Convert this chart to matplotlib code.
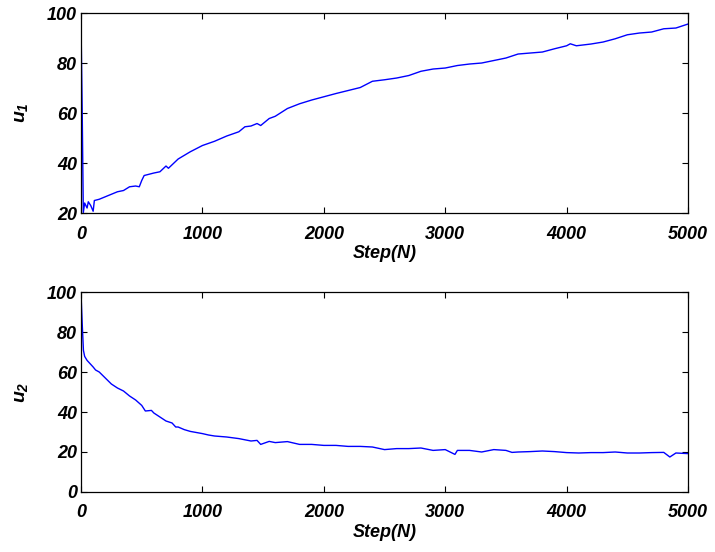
import matplotlib
matplotlib.use('Agg')
import matplotlib.pyplot as plt

# values
steps_u1 = [0, 10, 19, 30, 50, 60, 80, 100, 110, 150, 200, 250, 300, 350, 400,
            450, 480, 500, 520, 600, 650, 700, 720, 800, 900, 1000, 1100, 1200,
            1300, 1350, 1400, 1450, 1480, 1550, 1600, 1700, 1800, 1900, 2000,
            2100, 2200, 2300, 2400, 2500, 2600, 2700, 2800, 2900, 3000, 3100,
            3200, 3300, 3400, 3500, 3600, 3700, 3800, 3900, 4000, 4030, 4080,
            4200, 4300, 4400, 4500, 4600, 4700, 4800, 4900, 5000]
u1 = [96, 60, 20.2, 24, 22, 24.5, 23, 20.7, 25, 25.5, 26.5, 27.5, 28.5, 29, 30.5,
      30.8, 30.5, 33, 35, 36, 36.5, 38.8, 37.9, 41.6, 44.5, 47, 48.7, 50.8,
      52.5, 54.5, 54.8, 55.8, 55, 57.8, 58.7, 61.8, 63.7, 65.2, 66.5,
      67.8, 69, 70.2, 72.7, 73.3, 74, 75, 76.7, 77.6, 78, 79,
      79.6, 80, 81, 82, 83.6, 84, 84.4, 85.7, 86.9, 87.7, 86.9,
      87.6, 88.4, 89.7, 91.3, 92, 92.4, 93.7, 94, 95.6]

steps_u2 = [0, 10, 20, 30, 50, 100, 120, 150, 200, 250, 300, 350, 400, 450, 500,
            530, 580, 600, 650, 700, 750, 780, 800, 850, 900, 1000, 1050, 1100,
            1200, 1300, 1400, 1450, 1480, 1550, 1600, 1700, 1800, 1900, 2000,
            2100, 2200, 2300, 2400, 2500, 2600, 2700, 2800, 2900, 3000, 3080,
            3100, 3200, 3300, 3400, 3500, 3550, 3600, 3700, 3800, 3900, 4000,
            4100, 4200, 4300, 4400, 4500, 4600, 4700, 4800, 4850, 4900, 5000]
u2 = [99, 84, 70.8, 67.8, 65.8, 62.5, 61, 60, 57, 54, 52, 50.5, 48, 46, 43.3,
      40.5, 40.8, 39.5, 37.5, 35.5, 34.5, 32.5, 32.5, 31.2, 30.3, 29.2, 28.5, 28,
      27.5, 26.7, 25.5, 25.8, 23.8, 25.3, 24.7, 25.2, 23.8, 23.8, 23.3,
      23.3, 22.8, 22.8, 22.5, 21.2, 21.7, 21.7, 22, 20.8, 21.2, 18.8,
      20.8, 20.8, 20, 21.2, 20.8, 19.8, 20, 20.2, 20.5, 20.2, 19.7,
      19.5, 19.7, 19.7, 20, 19.5, 19.5, 19.7, 19.8, 17.5, 19.5, 19.2]

x_ticks = [0, 1000, 2000, 3000, 4000, 5000]


def main():
    plt.rcParams['font.family'] = 'Liberation Sans'
    plt.rcParams['font.weight'] = 'bold'
    plt.rcParams['font.style'] = 'italic'
    plt.rcParams['mathtext.fontset'] = 'custom'
    plt.rcParams['mathtext.it'] = 'Liberation Sans:bold:italic'
    plt.rcParams['mathtext.rm'] = 'Liberation Sans:bold:italic'

    fig = plt.figure(figsize=(7.15, 5.52), dpi=100)
    ax1 = fig.add_axes([0.1133, 0.6141, 0.849, 0.3623])
    ax2 = fig.add_axes([0.1133, 0.1087, 0.849, 0.3623])

    ax1.plot(steps_u1, u1, color='#0000ff', linewidth=1.0)
    ax2.plot(steps_u2, u2, color='#0000ff', linewidth=1.0)

    ax1.set_ylim(20, 100)
    ax1.set_yticks([20, 40, 60, 80, 100])
    ax2.set_ylim(0, 100)
    ax2.set_yticks([0, 20, 40, 60, 80, 100])

    for ax, lab in [(ax1, '$u_1$'), (ax2, '$u_2$')]:
        ax.set_xlim(0, 5000)
        ax.set_xticks(x_ticks)
        ax.tick_params(direction='in', top=True, right=True, length=4,
                       width=0.8, labelsize=13)
        ax.tick_params(axis='x', pad=9)
        ax.tick_params(axis='y', pad=3)
        for sp in ax.spines.values():
            sp.set_linewidth(0.9)
        ax.set_xlabel('Step(N)', fontsize=13, fontweight='bold', labelpad=2)
        ax.set_ylabel(lab, fontsize=14, fontweight='bold', labelpad=12)

    fig.savefig('out.png', dpi=100)


main()
